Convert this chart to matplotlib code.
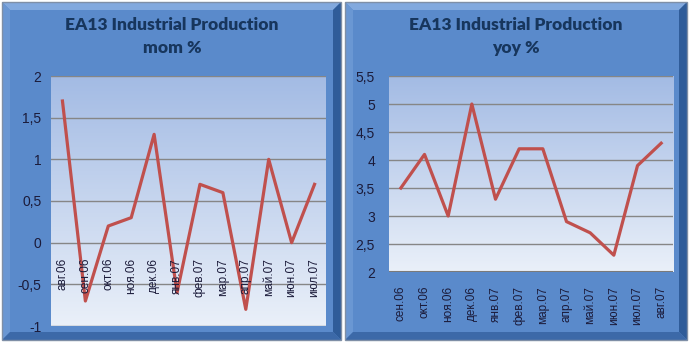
import numpy as np
import matplotlib.pyplot as plt
from matplotlib.patches import Polygon, Rectangle
from matplotlib.colors import LinearSegmentedColormap

# data
mom_months = ['авг.06', 'сен.06', 'окт.06', 'ноя.06', 'дек.06', 'янв.07',
              'фев.07', 'мар.07', 'апр.07', 'май.07', 'июн.07', 'июл.07']
mom_values = [1.7, -0.7, 0.2, 0.3, 1.3, -0.6, 0.7, 0.6, -0.8, 1.0, 0.0, 0.7]
mom_ticks = [-1, -0.5, 0, 0.5, 1, 1.5, 2]
mom_ticklabels = ['-1', '-0,5', '0', '0,5', '1', '1,5', '2']

yoy_months = ['сен.06', 'окт.06', 'ноя.06', 'дек.06', 'янв.07', 'фев.07',
              'мар.07', 'апр.07', 'май.07', 'июн.07', 'июл.07', 'авг.07']
yoy_values = [3.5, 4.1, 3.0, 5.0, 3.3, 4.2, 4.2, 2.9, 2.7, 2.3, 3.9, 4.3]
yoy_ticks = [2, 2.5, 3, 3.5, 4, 4.5, 5, 5.5]
yoy_ticklabels = ['2', '2,5', '3', '3,5', '4', '4,5', '5', '5,5']

W, H = 691, 343
plt.rcParams['font.family'] = ['Liberation Sans', 'DejaVu Sans']

fig = plt.figure(figsize=(W / 100, H / 100), dpi=100)
fig.patch.set_facecolor('white')

line_color = '#C0504D'
text_color = '#1b1b3a'
title_color = '#17365D'
grid_color = '#868686'


def px(x0, y0, x1, y1):
    # pixel box (top-left origin) -> figure fraction rect
    return [x0 / W, 1 - y1 / H, (x1 - x0) / W, (y1 - y0) / H]


def panel(x0, y0, x1, y1, b=8):
    def P(pts, c):
        fig.patches.append(Polygon([(x / W, 1 - y / H) for x, y in pts],
                                   closed=True, transform=fig.transFigure,
                                   facecolor=c, edgecolor='none', zorder=-3))
    P([(x0, y0), (x1, y0), (x1, y1), (x0, y1)], '#5A8ACB')
    P([(x0, y0), (x1, y0), (x1 - b, y0 + b), (x0 + b, y0 + b)], '#82A9DE')
    P([(x0, y0), (x0 + b, y0 + b), (x0 + b, y1 - b), (x0, y1)], '#6A97D3')
    P([(x1, y0), (x1, y1), (x1 - b, y1 - b), (x1 - b, y0 + b)], '#2F5C99')
    P([(x0, y1), (x1, y1), (x1 - b, y1 - b), (x0 + b, y1 - b)], '#3C69A8')
    fig.patches.append(Rectangle((x0 / W, 1 - y1 / H), (x1 - x0) / W, (y1 - y0) / H,
                                 transform=fig.transFigure, fill=False,
                                 edgecolor='#7f8fa6', linewidth=1, zorder=-2))


panel(2, 2, 341, 340)
panel(345, 2, 687, 340)

grad = np.linspace(0, 1, 256).reshape(-1, 1)
bg_cmap = LinearSegmentedColormap.from_list('bg', ['#A3BBE4', '#EAF0F9'])


def setup(ax, ticks, ticklabels, pad):
    ax.imshow(grad, cmap=bg_cmap, aspect='auto', extent=[0, 1, 0, 1],
              origin='upper', transform=ax.transAxes, zorder=0)
    for s in ax.spines.values():
        s.set_visible(False)
    ax.set_yticks(ticks)
    ax.set_yticklabels(ticklabels)
    ax.set_ylim(ticks[0], ticks[-1])
    ax.set_xlim(-0.5, 11.5)
    ax.yaxis.grid(True, color=grid_color, linewidth=1)
    ax.set_axisbelow(True)
    ax.tick_params(axis='y', length=0, pad=pad, labelsize=10, labelcolor=text_color)


def title(xc, sub):
    fig.text(xc / W, 1 - 25 / H, 'EA13 Industrial Production', ha='center',
             va='center', fontsize=12.5, fontweight='heavy', color=title_color,
             family='Lato')
    fig.text(xc / W, 1 - 48 / H, sub, ha='center', va='center', fontsize=12.5,
             fontweight='heavy', color=title_color, family='Lato')


# left: mom %
ax1 = fig.add_axes(px(51, 76, 326, 326))
setup(ax1, mom_ticks, mom_ticklabels, 7)
ax1.plot(range(len(mom_values)), mom_values, color=line_color, linewidth=2.3,
         zorder=3)
ax1.set_xticks([])
for i, m in enumerate(mom_months):
    ax1.annotate(m, (i, 0), xytext=(0, -11), textcoords='offset points',
                 rotation=90, ha='center', va='top', fontsize=8.5,
                 color=text_color, zorder=4)
title(172, 'mom %')

# right: yoy %
ax2 = fig.add_axes(px(389, 76, 673, 272))
setup(ax2, yoy_ticks, yoy_ticklabels, 10)
ax2.plot(range(len(yoy_values)), yoy_values, color=line_color, linewidth=2.3,
         zorder=3)
ax2.set_xticks(range(len(yoy_months)))
ax2.set_xticklabels(yoy_months, rotation=90, fontsize=8.5, color=text_color)
ax2.tick_params(axis='x', length=0, pad=10)
ax2.axhline(2, color='#7a7a7a', linewidth=1.5, zorder=2)
title(516, 'yoy %')

fig.savefig('out.png', dpi=100)
